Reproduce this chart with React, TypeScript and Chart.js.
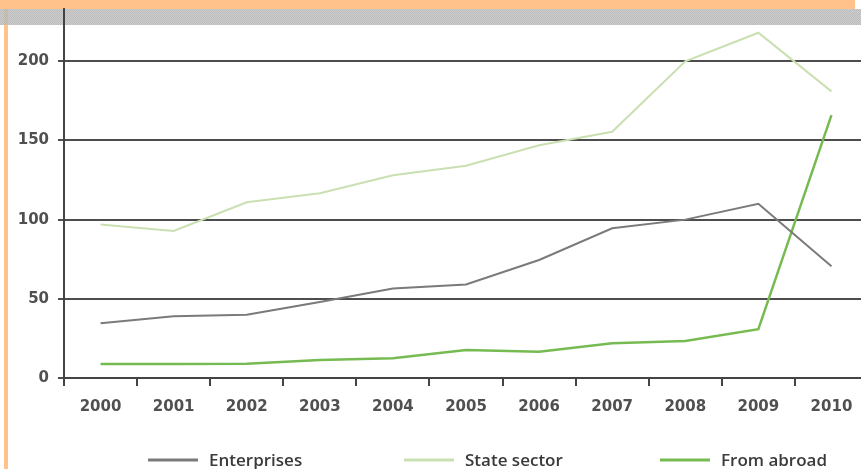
import React, { useEffect, useRef } from "react";
import { Chart, registerables } from "chart.js";

Chart.register(...registerables);

const years = ["2000", "2001", "2002", "2003", "2004", "2005", "2006", "2007", "2008", "2009", "2010"];
const enterprises = [34.5, 39, 40, 48, 56.5, 59, 74.5, 94.5, 100, 110, 70.5];
const stateSector = [97, 92.8, 111, 116.6, 128, 134, 147, 155.5, 200, 218, 181];
const fromAbroad = [8.8, 8.8, 9, 11.3, 12.4, 17.7, 16.6, 21.9, 23.4, 30.8, 166];
const yTicks = [0, 50, 100, 150, 200];

const seriesNames = ["Enterprises", "State sector", "From abroad"];
const seriesColors = ["#7a7a7a", "#cadfb2", "#76bb52"];

const FONT = "'Open Sans', 'DejaVu Sans', sans-serif";
const TICK_FONT = "'DejaVu Sans', sans-serif";

const decorPlugin = {
  id: "decor",
  beforeDraw(chart: any) {
    const ctx = chart.ctx;
    ctx.save();
    ctx.fillStyle = "#ffffff";
    ctx.fillRect(0, 0, chart.width, chart.height);
    const pc = document.createElement("canvas");
    pc.width = 2;
    pc.height = 2;
    const pctx = pc.getContext("2d")!;
    pctx.fillStyle = "#c6c6c6";
    pctx.fillRect(0, 0, 2, 2);
    pctx.fillStyle = "#b0b0b0";
    pctx.fillRect(0, 0, 1, 1);
    pctx.fillRect(1, 1, 1, 1);
    const pat = ctx.createPattern(pc, "repeat");
    ctx.fillStyle = "#fec28a";
    ctx.fillRect(4, 9, 4, chart.height - 9);
    ctx.globalAlpha = 0.85;
    ctx.fillStyle = pat;
    ctx.fillRect(0, 9, chart.width, 16);
    ctx.globalAlpha = 1;
    ctx.fillStyle = "#fec28a";
    ctx.fillRect(0, 0, 855, 9);
    ctx.restore();
  },
};

const legendPlugin = {
  id: "customLegend",
  afterDraw(chart: any) {
    const ctx = chart.ctx;
    ctx.save();
    ctx.font = `600 17px ${FONT}`;
    ctx.textBaseline = "middle";
    ctx.textAlign = "left";
    const y = 460;
    chart.data.datasets.forEach((ds: any, i: number) => {
      const x0 = 148 + i * 256;
      ctx.strokeStyle = ds.borderColor;
      ctx.lineWidth = 3;
      ctx.beginPath();
      ctx.moveTo(x0, y);
      ctx.lineTo(x0 + 50, y);
      ctx.stroke();
      ctx.fillStyle = "#3a3a3a";
      ctx.fillText(ds.label, x0 + 61, y + 1);
    });
    ctx.restore();
  },
};

export default function App() {
  const ref = useRef<HTMLCanvasElement>(null);
  useEffect(() => {
    if (!ref.current) return;
    const data = [enterprises, stateSector, fromAbroad];
    const chart = new Chart(ref.current, {
      type: "line",
      data: {
        labels: years,
        datasets: data.map((d, i) => ({
          label: seriesNames[i],
          data: d,
          borderColor: seriesColors[i],
          backgroundColor: seriesColors[i],
          borderWidth: i === 2 ? 2.5 : 2,
          pointRadius: 0,
          tension: 0,
          fill: false,
        })),
      },
      options: {
        animation: false,
        responsive: false,
        devicePixelRatio: 1,
        layout: { padding: { top: 9, left: 0, right: 0, bottom: 0 } },
        plugins: { legend: { display: false }, tooltip: { enabled: false } },
        scales: {
          x: {
            offset: true,
            grid: {
              offset: true,
              drawOnChartArea: false,
              drawTicks: true,
              tickLength: 8,
              color: "#444",
              lineWidth: 2,
            },
            border: { display: true, color: "#444", width: 2 },
            ticks: {
              padding: 12,
              color: "#505050",
              font: { family: TICK_FONT, size: 15, weight: "bold" },
              maxRotation: 0,
            },
            afterFit: (s: any) => {
              s.height = 91;
              s.paddingLeft = 0;
              s.paddingRight = 0;
            },
          },
          y: {
            min: 0,
            max: 233,
            ticks: {
              stepSize: 50,
              padding: 9,
              color: "#505050",
              font: { family: TICK_FONT, size: 15, weight: "bold" },
            },
            afterBuildTicks: (s: any) => {
              s.ticks = yTicks.map((v) => ({ value: v }));
            },
            grid: { color: "#4d4d4d", lineWidth: 2, tickLength: 6, drawTicks: true },
            border: { display: true, color: "#444", width: 2 },
            afterFit: (s: any) => {
              s.width = 64;
              s.paddingTop = 0;
              s.paddingBottom = 0;
            },
          },
        },
      },
      plugins: [decorPlugin, legendPlugin],
    });
    return () => chart.destroy();
  }, []);
  return (
    <div style={{ position: "fixed", left: 0, top: 0, width: 861, height: 469, overflow: "hidden", background: "#fff" }}>
      <canvas ref={ref} width={868} height={469} style={{ display: "block" }} />
    </div>
  );
}
